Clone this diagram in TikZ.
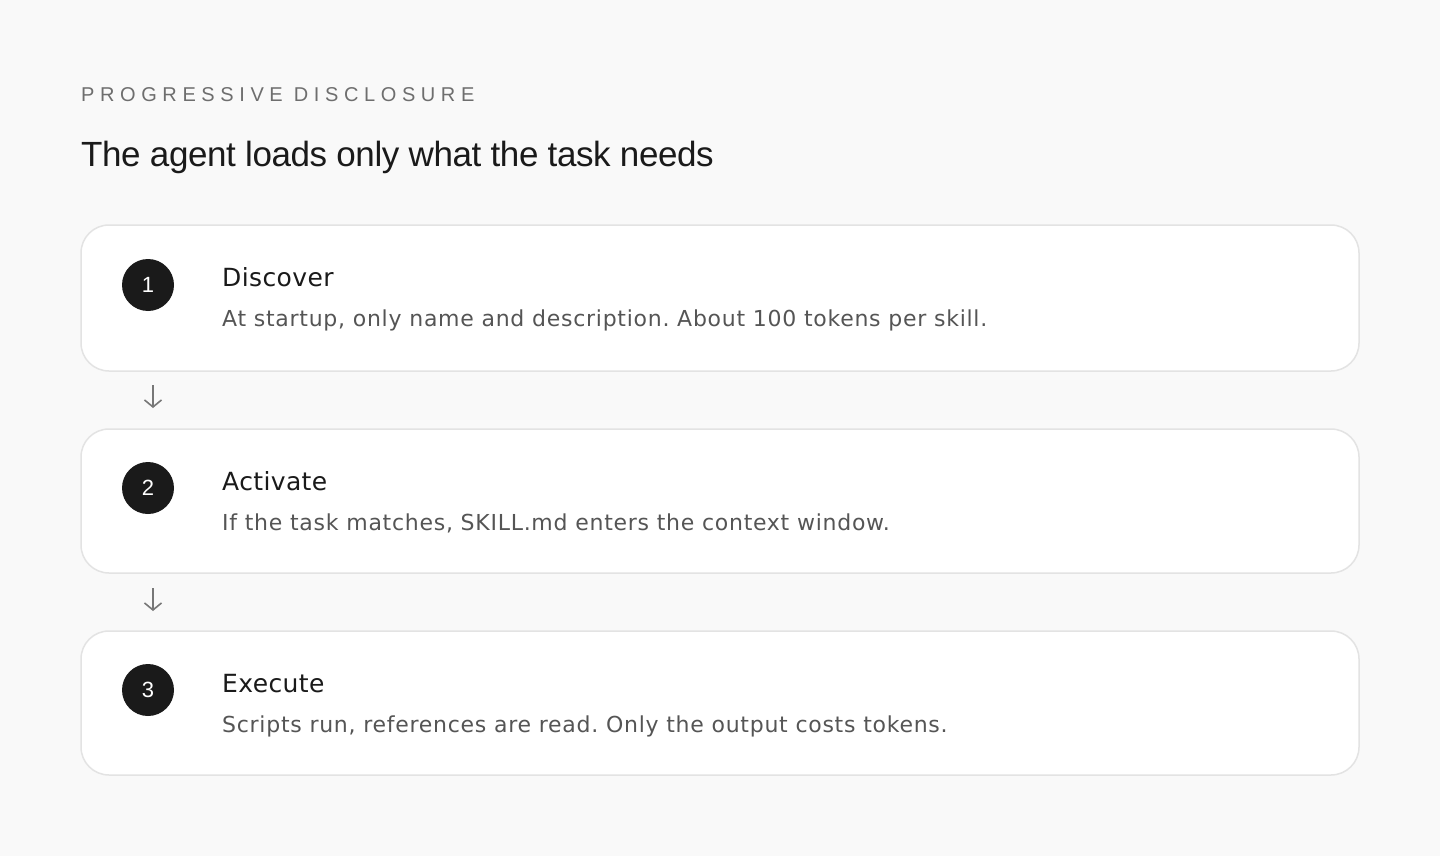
\documentclass[tikz,border=0pt]{standalone}
\usepackage{fontspec}
\setmainfont{Liberation Sans}
\newfontfamily\trackfont[LetterSpace=28]{Liberation Sans}
\newfontfamily\titlefont[LetterSpace=-1.2]{Liberation Sans}
\newfontfamily\steptfont[LetterSpace=1.5]{DejaVu Sans}
\newfontfamily\descfont[LetterSpace=3.3]{DejaVu Sans}
\usetikzlibrary{arrows.meta}
\definecolor{bgc}{HTML}{F9F9F9}
\definecolor{bordc}{HTML}{E3E3E3}
\definecolor{dark}{HTML}{1A1A1A}
\definecolor{headc}{HTML}{6E6E6E}
\definecolor{descc}{HTML}{555555}
\definecolor{arrc}{HTML}{777777}
\tikzset{
  card/.style={draw=bordc, line width=1.5pt, fill=white, rounded corners=28pt},
  badge/.style={circle, fill=dark, minimum size=52pt, inner sep=0pt, text=white, font=\fontsize{22}{24}\selectfont},
  steptitle/.style={anchor=base west, inner sep=0pt, text=dark, font=\steptfont\fontsize{25}{30}\selectfont},
  stepdesc/.style={anchor=base west, inner sep=0pt, text=descc, font=\descfont\fontsize{22}{26}\selectfont},
  flow/.style={draw=arrc, line width=1.6pt, -{Straight Barb[length=7pt, width=17pt, line width=1.6pt]}}
}
\begin{document}
\frenchspacing
\begin{tikzpicture}[x=1pt, y=-1pt]
\fill[bgc] (0,0) rectangle (1440,856);
\useasboundingbox (0,0) rectangle (1440,856);
\node[anchor=base west, inner sep=0pt, text=headc, font=\trackfont\fontsize{20}{24}\selectfont] (hdr) at (81,102) {PROGRESSIVE DISCLOSURE};
\node[anchor=base west, inner sep=0pt, text=dark, font=\titlefont\fontsize{35}{40}\selectfont] (ttl) at (81,166) {The agent loads only what the task needs};

\draw[card] (81,225) rectangle (1359,371);
\node (card1) at (720,298) {};
\draw[card] (81,429) rectangle (1359,573);
\node (card2) at (720,501) {};
\draw[card] (81,631) rectangle (1359,775);
\node (card3) at (720,703) {};

\node[badge] (b1) at (148,285) {1};
\node[badge] (b2) at (148,488) {2};
\node[badge] (b3) at (148,690) {3};

\node[steptitle] (t1) at (222,286) {Discover};
\node[stepdesc] (d1) at (222,326) {At startup, only name and description. About 100 tokens per skill.};
\node[steptitle] (t2) at (222,490) {Activate};
\node[stepdesc] (d2) at (222,530) {If the task matches, SKILL.md enters the context window.};
\node[steptitle] (t3) at (222,692) {Execute};
\node[stepdesc] (d3) at (222,732) {Scripts run, references are read. Only the output costs tokens.};

\coordinate (a1s) at (153,385);
\coordinate (a1e) at (153,408);
\coordinate (a2s) at (153,588);
\coordinate (a2e) at (153,611);
\draw[flow] (a1s) -- (a1e);
\draw[flow] (a2s) -- (a2e);
\end{tikzpicture}
\end{document}
